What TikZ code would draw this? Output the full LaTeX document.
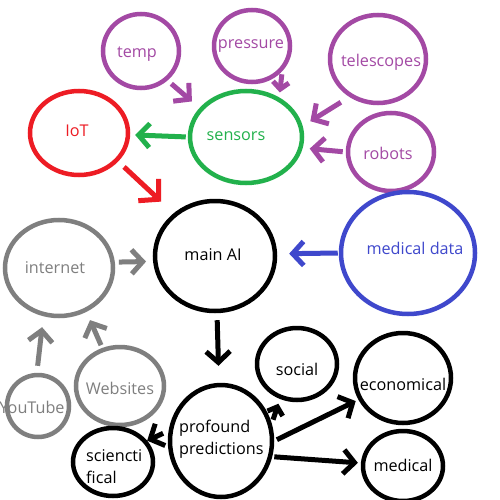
\documentclass[tikz,border=0pt]{standalone}
\usepackage{fontspec}
\setmainfont{Open Sans}
\usetikzlibrary{shapes.geometric,arrows.meta}
\definecolor{ppl}{RGB}{163,73,164}
\definecolor{grn}{RGB}{34,177,76}
\definecolor{rd}{RGB}{237,28,36}
\definecolor{blu}{RGB}{63,72,204}
\definecolor{gry}{RGB}{127,127,127}
\tikzset{
  ell/.style n args={2}{ellipse, draw, line width=4.5pt, inner sep=0pt,
    minimum width=#1pt, minimum height=#2pt},
  txt/.style={font=\fontsize{16.2}{22}\selectfont, inner sep=0pt},
  arr/.style={line width=5pt, -{Straight Barb[length=11pt,width=24pt]}},
  smallarr/.style={line width=5pt, -{Straight Barb[length=7pt,width=16pt]}},
  bigarr/.style={line width=5pt, -{Straight Barb[length=14pt,width=30pt]}}
}
\begin{document}
\begin{tikzpicture}[x=1pt,y=-1pt]
\useasboundingbox (0,0) rectangle (500,500);
\fill[white] (0,0) rectangle (500,500);
\clip (0,0) rectangle (500,500);
% ellipses
\node[ell={76}{74}, ppl] (temp) at (141,51) {};
\node[ell={76}{72}, ppl] (pres) at (252,46) {};
\node[ell={96}{88}, ppl] (tel) at (378,59) {};
\node[ell={86}{78}, ppl] (rob) at (391,152) {};
\node[ell={112}{92}, grn] (sens) at (246,137) {};
\node[ell={98}{84}, rd] (iot) at (79,133) {};
\node[ell={120}{110}, black] (main) at (215,256) {};
\node[ell={134}{122}, blu] (med) at (408,253) {};
\node[ell={108}{96}, gry] (inet) at (59,268) {};
\node[ell={62}{62}, gry] (yt) at (38,406) {};
\node[ell={88}{78}, gry] (web) at (120,386) {};
\node[ell={102}{112}, black] (prof) at (221,441) {};
\node[ell={80}{68}, black] (sci) at (113,462) {};
\node[ell={80}{72}, black] (soc) at (297,364) {};
\node[ell={96}{90}, black] (eco) at (403,378) {};
\node[ell={80}{70}, black] (medi) at (403,466) {};
% texts
\node[txt, ppl] (tempT) at (137,54) {temp};
\node[txt, ppl] (presT) at (251,46) {pressure};
\node[txt, ppl] (telT) at (381,62) {telescopes};
\node[txt, ppl] (robT) at (388,153) {robots};
\node[txt, grn] (sensT) at (236,136) {sensors};
\node[txt, rd] (iotT) at (77,131) {IoT};
\node[txt] (mainT) at (213,255) {main AI};
\node[txt, blu] (medT) at (415,248) {medical data};
\node[txt, gry] (inetT) at (55,268) {internet};
\node[txt, gry] (ytT) at (32,407) {YouTube};
\node[txt, gry] (webT) at (120,388) {Websites};
\node[txt, anchor=west, align=left] (profT) at (179,439) {profound\\predictions};
\node[txt, anchor=west, align=left] (sciT) at (86,467) {sciencti\\fical};
\node[txt] (socT) at (297,369) {social};
\node[txt] (ecoT) at (403,384) {economical};
\node[txt] (mediT) at (403,465) {medical};
% arrows
\draw[arr, ppl, shorten <=5pt, shorten >=10pt] (temp.-48) -- (sens.148);
\draw[smallarr, ppl, shorten <=3pt, shorten >=5pt] (pres.-40) -- (sens.50);
\draw[arr, ppl, shorten <=10pt, shorten >=9pt] (tel.233) -- (sens.11);
\draw[arr, ppl, shorten <=3pt, shorten >=7pt] (rob.180) -- (sens.-11);
\draw[arr, grn, shorten <=2pt, shorten >=5pt] (sens.180) -- (iot.-2);
\draw[bigarr, rd, shorten <=8pt, shorten >=17pt] (iot.-36) -- (main.134);
\draw[arr, gry, shorten <=4pt, shorten >=7pt] (inet.6) -- (main.185);
\draw[arr, blu, shorten <=1pt, shorten >=12pt] (med.180) -- (main.2);
\draw[arr, black, shorten <=7pt, shorten >=17pt] (main.-88) -- (prof.92);
\draw[arr, gry, shorten <=7pt, shorten >=11pt] (yt.92) -- (inet.-108);
\draw[arr, gry, shorten <=3pt, shorten >=9pt] (web.115) -- (inet.-58);
\draw[arr, black, shorten <=6pt] (prof.169) -- (sci.32);
\draw[smallarr, black, shorten <=4pt, shorten >=5pt] (prof.19) -- (soc.-116);
\draw[arr, black, shorten <=3pt, shorten >=3pt] (prof.0) -- (eco.-154);
\draw[arr, black, shorten <=2pt, shorten >=3pt] (prof.-17) -- (medi.176);
\end{tikzpicture}
\end{document}
